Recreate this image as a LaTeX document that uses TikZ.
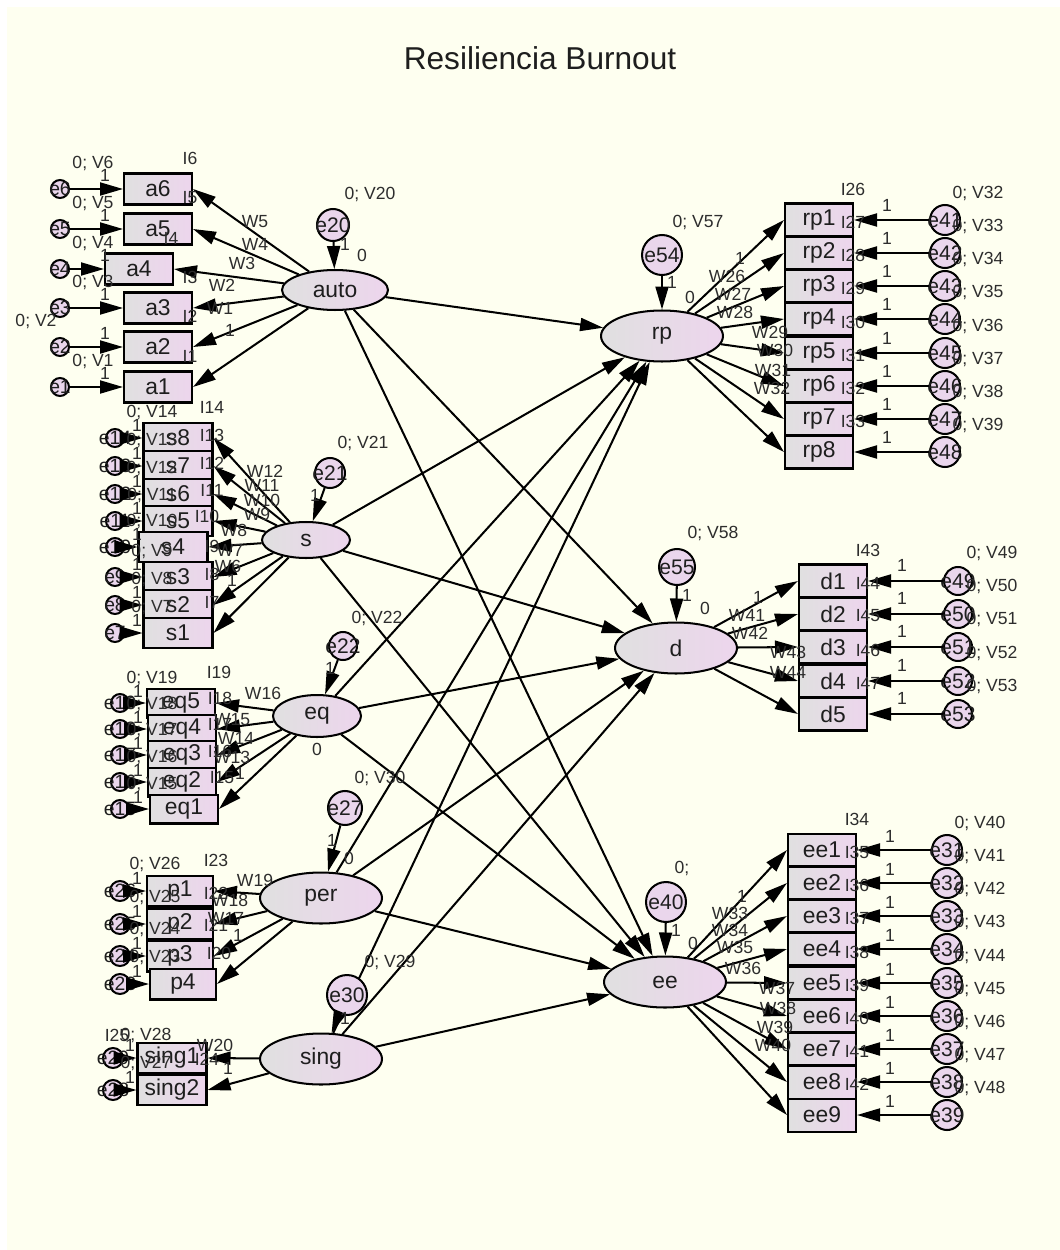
\documentclass[tikz,border=0pt]{standalone}
\usepackage{fontspec}
\setmainfont{Liberation Sans}
\usetikzlibrary{shapes.geometric,arrows.meta}
\definecolor{paper}{RGB}{254,255,240}
\definecolor{boxgray}{RGB}{224,224,224}
\definecolor{boxpink}{RGB}{237,213,237}
\definecolor{errpink}{RGB}{234,214,236}
\definecolor{ink}{RGB}{30,30,30}
\definecolor{txt}{RGB}{45,45,45}
\tikzset{
  obs/.style={draw, left color=boxgray, right color=boxpink, minimum width=1.36cm, minimum height=0.64cm, inner sep=0pt, font=\fontsize{13}{14}\selectfont, text=ink},
  lat/.style={draw, ellipse, left color=boxgray, right color=boxpink, minimum width=2.44cm, minimum height=1.02cm, inner sep=0pt, font=\fontsize{13}{14}\selectfont, text=ink},
  err/.style={draw, circle, fill=errpink, minimum size=0.6cm, inner sep=0pt, font=\fontsize{12}{12}\selectfont, text=ink},
  smallerr/.style={err, minimum size=0.36cm, font=\fontsize{11}{11}\selectfont},
  prm/.style={font=\fontsize{10}{10}\selectfont, text=txt, inner sep=0pt},
}
\begin{document}
\begin{tikzpicture}[x=0.02cm,y=-0.02cm,>={Triangle[length=4.6mm,width=2.6mm]},line width=1.15pt]
\useasboundingbox (0,0) rectangle (1060,1250);
\fill[white] (-20,-20) rectangle (1080,1270);
\fill[paper] (7,7) rectangle (1080,1270);
\node[font=\fontsize{18}{20}\selectfont, text=ink] (title) at (540,58) {Resiliencia Burnout};

\node[lat, minimum width=2.12cm, minimum height=0.8cm] (auto) at (335,290) {auto};
\node[lat, minimum width=1.76cm, minimum height=0.72cm] (s) at (306,540) {s};
\node[lat, minimum width=1.76cm, minimum height=0.84cm] (eq) at (317,716) {eq};
\node[lat] (per) at (321,898) {per};
\node[lat] (sing) at (321,1059) {sing};
\node[lat] (rp) at (662,336) {rp};
\node[lat] (d) at (676,648) {d};
\node[lat] (ee) at (665,982) {ee};

\foreach \a in {auto,s,eq,per,sing}
{
    \foreach \b in {rp,d,ee}
    {
        \draw[->] (\a) -- (\b);
    }
}

\foreach \n/\x/\y/\r/\t in {e20/333/225/0.64/auto, e21/330/473/0.6/s, e22/343/646/0.56/eq, e27/345/808/0.68/per, e30/347/995/0.8/sing, e54/662/255/0.8/rp, e55/677/567/0.72/d, e40/666/902/0.8/ee}
{
    \node[err, minimum size=\r cm] (\n) at (\x,\y) {\makebox[0pt]{\n}};
    \draw[->] (\n) -- (\t);
}
\foreach \x/\y/\t in {370/194/{0; V20}, 345/244/1, 362/255/0, 363/443/{0; V21}, 315/495/1, 377/618/{0; V22}, 330/668/1, 317/749/0, 380/778/{0; V30}, 332/840/1, 349/858/0, 390/962/{0; V29}, 345/1018/1, 698/222/{0; V57}, 672/282/1, 690/297/0, 713/533/{0; V58}, 687/595/1, 705/608/0, 682/868/{0;}, 676/930/1, 693/943/0}
{
    \node[prm] at (\x,\y) {\t};
}

\foreach \b/\x/\y/\e/\vx/\v/\i/\w/\wx/\wy in {a6/158/189/e6/93/V6/I6/W5/255/222, a5/158/229/e5/93/V5/I5/W4/255/244, a4/139/269/e4/93/V4/I4/W3/242/263, a3/158/308/e3/93/V3/I3/W2/222/285, a2/158/347/e2/36/V2/I2/W1/220/308, a1/158/387/e1/93/V1/I1/1/230/330}
{
    \node[obs, minimum height=0.62cm] (\b) at (\x,\y) {\b};
    \node[smallerr] (\e) at (60,\y) {\makebox[0pt]{\e}};
    \draw[->] (\e) -- (\b.west);
    \draw[->] (auto) -- (\b.east);
    \node[prm] at (\vx,\y-26) {0; \v};
    \node[prm] at (\x+32,\y-31) {\i};
    \node[prm] at (105,\y-14) {1};
    \node[prm] at (\wx,\wy) {\w};
}

\foreach \b/\x/\y/\e/\v/\i/\w/\wx/\wy in {s8/178/438/e14/V14/I14/W12/265/471, s7/178/466/e13/V13/I13/W11/262/485, s6/178/494/e12/V12/I12/W10/262/500, s5/178/521/e11/V11/I11/W9/257/514, s4/173/547/e10/V10/I10/W8/234/530, s3/178/577/e9/V9/I9/W7/230/550, s2/178/605/e8/V8/I8/W6/228/566, s1/178/633/e7/V7/I7/1/232/580}
{
    \node[obs, minimum width=1.38cm, minimum height=0.6cm] (\b) at (\x,\y) {\b};
    \node[smallerr] (\e) at (115,\y) {\makebox[0pt]{\e}};
    \draw[->] (\e) -- (\b.west);
    \draw[->] (s) -- (\b.east);
    \node[prm] at (152,\y-26) {0; \v};
    \node[prm] at (\x+34,\y-31) {\i};
    \node[prm] at (137,\y-13) {1};
    \node[prm] at (\wx,\wy) {\w};
}

\foreach \b/\x/\y/\e/\v/\i/\w/\wx/\wy in {eq5/181/703/e19/V19/I19/W16/263/693, eq4/182/729/e18/V18/I18/W15/232/720, eq3/182/755/e17/V17/I17/W14/236/738, eq2/182/782/e16/V16/I16/W13/232/757, eq1/184/809/e15/V15/I15/1/240/773}
{
    \node[obs, minimum height=0.58cm] (\b) at (\x,\y) {\b};
    \node[smallerr] (\e) at (120,\y) {\makebox[0pt]{\e}};
    \draw[->] (\e) -- (\b.west);
    \draw[->] (eq) -- (\b.east);
    \node[prm] at (152,\y-25) {0; \v};
    \node[prm] at (\x+38,\y-31) {\i};
    \node[prm] at (138,\y-12) {1};
    \node[prm] at (\wx,\wy) {\w};
}

\foreach \b/\x/\y/\e/\v/\i/\w/\wx/\wy in {p1/180/891/e26/V26/I23/W19/255/880, p2/180/924/e25/V25/I22/W18/230/900, p3/180/956/e24/V24/I21/W17/226/918, p4/183/984/e23/V23/I20/1/238/935}
{
    \node[obs, minimum width=1.32cm, minimum height=0.62cm] (\b) at (\x,\y) {\b};
    \node[smallerr, minimum size=0.4cm] (\e) at (120,\y) {\makebox[0pt]{\e}};
    \draw[->] (\e) -- (\b.west);
    \draw[->] (per) -- (\b.east);
    \node[prm] at (155,\y-27) {0; \v};
    \node[prm] at (\x+36,\y-31) {\i};
    \node[prm] at (137,\y-13) {1};
    \node[prm] at (\wx,\wy) {\w};
}

\foreach \b/\y/\e/\v/\vy/\i/\ix/\iy/\w/\wx/\wy in {sing1/1058/e29/V28/1035/I25/117/1035/W20/215/1045, sing2/1090/e28/V27/1063/I24/207/1059/1/228/1068}
{
    \node[obs, minimum width=1.38cm, minimum height=0.6cm] (\b) at (172,\y) {\b};
    \node[smallerr, minimum size=0.4cm] (\e) at (113,\y) {\makebox[0pt]{\e}};
    \draw[->] (\e) -- (\b.west);
    \draw[->] (sing) -- (\b.east);
    \node[prm] at (146,\vy) {0; \v};
    \node[prm] at (\ix,\iy) {\i};
    \node[prm] at (130,\y-13) {1};
    \node[prm] at (\wx,\wy) {\w};
}

\foreach \b/\y/\e/\v/\i/\w/\wx/\wy in {rp1/220/e41/V32/I26/1/740/258, rp2/253/e42/V33/I27/W26/727/276, rp3/286/e43/V34/I28/W27/733/294, rp4/319/e44/V35/I29/W28/735/312, rp5/353/e45/V36/I30/W29/770/332, rp6/386/e46/V37/I31/W30/775/350, rp7/419/e47/V38/I32/W31/773/370, rp8/452/e48/V39/I33/W32/772/388}
{
    \node[obs, minimum height=0.66cm] (\b) at (819,\y) {\b};
    \node[err] (\e) at (945,\y) {\makebox[0pt]{\e}};
    \draw[->] (\e) -- (\b.east);
    \draw[->] (rp) -- (\b.west);
    \node[prm] at (978,\y-27) {0; \v};
    \node[prm] at (853,\y-31) {\i};
    \node[prm] at (887,\y-15) {1};
    \node[prm] at (\wx,\wy) {\w};
}

\foreach \b/\y/\e/\v/\i/\w/\wx/\wy in {d1/581/e49/V49/I43/1/758/597, d2/614/e50/V50/I44/W41/747/615, d3/647/e51/V51/I45/W42/750/633, d4/681/e52/V52/I46/W43/788/652, d5/714/e53/V53/I47/W44/788/672}
{
    \node[obs, minimum height=0.66cm] (\b) at (833,\y) {\b};
    \node[err, minimum size=0.56cm] (\e) at (958,\y) {\makebox[0pt]{\e}};
    \draw[->] (\e) -- (\b.east);
    \draw[->] (d) -- (\b.west);
    \node[prm] at (992,\y-28) {0; \v};
    \node[prm] at (868,\y-31) {\i};
    \node[prm] at (902,\y-16) {1};
    \node[prm] at (\wx,\wy) {\w};
}

\foreach \b/\y/\e/\v/\i/\w/\wx/\wy in {ee1/850/e31/V40/I34/1/742/896, ee2/883/e32/V41/I35/W33/730/913, ee3/916/e33/V42/I36/W34/730/930, ee4/949/e34/V43/I37/W35/735/947, ee5/983/e35/V44/I38/W36/743/968, ee6/1016/e36/V45/I39/W37/777/988, ee7/1049/e37/V46/I40/W38/778/1008, ee8/1082/e38/V47/I41/W39/775/1027, ee9/1115/e39/V48/I42/W40/773/1045}
{
    \node[obs, minimum height=0.66cm] (\b) at (822,\y) {\b};
    \node[err] (\e) at (947,\y) {\makebox[0pt]{\e}};
    \draw[->] (\e) -- (\b.east);
    \draw[->] (ee) -- (\b.west);
    \node[prm] at (980,\y-27) {0; \v};
    \node[prm] at (857,\y-31) {\i};
    \node[prm] at (890,\y-14) {1};
    \node[prm] at (\wx,\wy) {\w};
}
\end{tikzpicture}
\end{document}
